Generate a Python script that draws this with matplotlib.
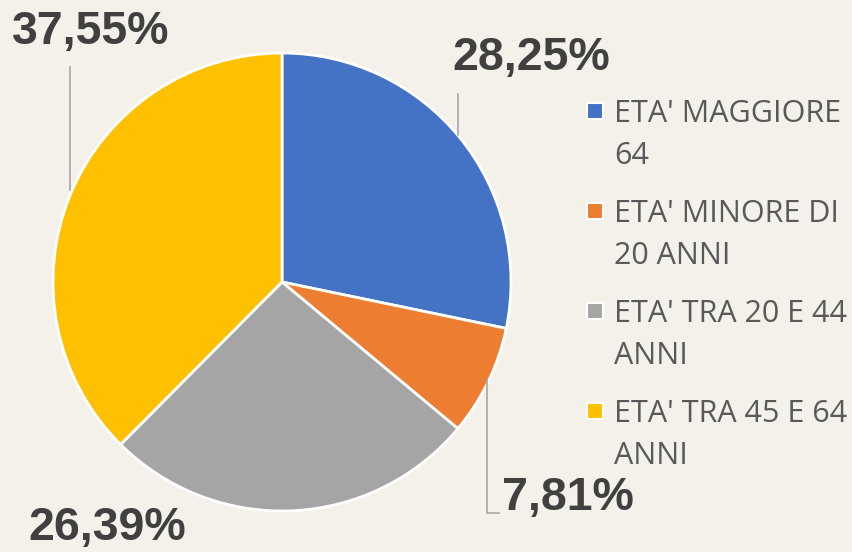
import matplotlib.pyplot as plt
from matplotlib.patches import Rectangle

categories = ["ETA' MAGGIORE\n64", "ETA' MINORE DI\n20 ANNI",
              "ETA' TRA 20 E 44\nANNI", "ETA' TRA 45 E 64\nANNI"]
values = [28.25, 7.81, 26.39, 37.55]
colors = ['#4472c4', '#ed7d31', '#a5a5a5', '#ffc000']

W, H = 852, 552
bg = '#f4f1ea'

fig = plt.figure(figsize=(W / 100, H / 100), dpi=100, facecolor=bg)
ax = fig.add_axes([0, 0, 1, 1])

def py(y):  # pixel row -> data y
    return H - y

ax.pie(values, colors=colors, startangle=90, counterclock=False,
       center=(282, py(282)), radius=229, frame=True,
       wedgeprops=dict(edgecolor='white', linewidth=2))
ax.set_xlim(0, W)
ax.set_ylim(0, H)
ax.axis('off')

# data labels (Italian decimal comma)
label_pos = [(531, 58), (568, 498), (107, 528), (91, 32)]
for v, (x, y) in zip(values, label_pos):
    ax.text(x, py(y), f"{v:.2f}".replace('.', ',') + '%', ha='center', va='center',
            fontsize=33.5, fontweight='bold', family='Liberation Sans', color='#404040')

# leader lines
lc = '#a6a6a6'
ax.plot([458, 458], [py(94), py(135)], color=lc, lw=1.2)
ax.plot([70, 70], [py(67), py(190)], color=lc, lw=1.2)
ax.plot([487, 487, 499], [py(380), py(513), py(513)], color=lc, lw=1.2)

# legend
for i, (lab, c) in enumerate(zip(categories, colors)):
    y0 = 111 + i * 100
    ax.add_patch(Rectangle((587, py(y0) - 8), 16, 16, facecolor=c,
                           edgecolor='white', lw=1.5))
    for j, line in enumerate(lab.split('\n')):
        ax.text(614, py(y0 + 11 + j * 42), line, ha='left', va='baseline',
                fontsize=22, family='Open Sans', color='#595959')

fig.savefig('out.png', dpi=100, facecolor=bg)
